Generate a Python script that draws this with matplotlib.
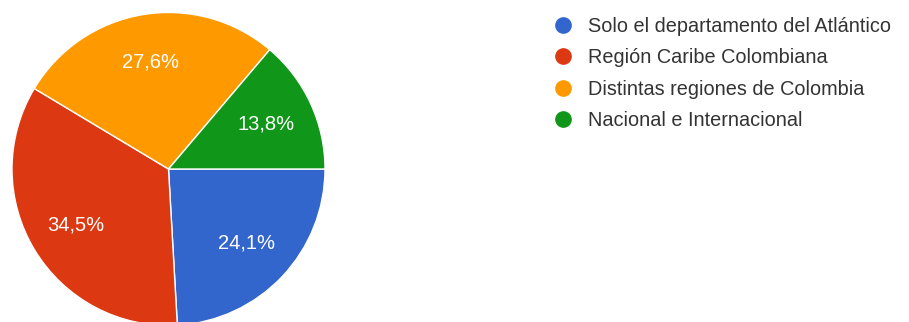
import matplotlib.pyplot as plt
from matplotlib.lines import Line2D

# Alcance de la oferta (porcentaje de respuestas)
categorias = ['Solo el departamento del Atlántico', 'Región Caribe Colombiana',
              'Distintas regiones de Colombia', 'Nacional e Internacional']
porcentajes = [24.1, 34.5, 27.6, 13.8]
colores = ['#3366CC', '#DC3912', '#FF9900', '#109618']

plt.rcParams['font.family'] = ['Liberation Sans', 'DejaVu Sans']

W, H = 909, 322
fig = plt.figure(figsize=(W / 100, H / 100), dpi=100)

# pie centered at (168.5, 169) px from top-left, radius 156.5 px
cx, cy, r = 168.5, H - 169, 156.5
ax = fig.add_axes([(cx - r) / W, (cy - r) / H, 2 * r / W, 2 * r / H])

wedges, texts, autotexts = ax.pie(
    porcentajes, colors=colores, startangle=0, counterclock=False,
    radius=1, center=(0, 0), pctdistance=0.69,
    autopct=lambda p: f'{p:.1f}%'.replace('.', ','),
    wedgeprops=dict(edgecolor='white', linewidth=1),
    textprops=dict(color='white', fontsize=14.5))
ax.set_xlim(-1, 1)
ax.set_ylim(-1, 1)
ax.set_aspect('equal')
ax.axis('off')

handles = [Line2D([], [], marker='o', linestyle='', markersize=11,
                  markerfacecolor=c, markeredgecolor=c) for c in colores]
fig.legend(handles, categorias, loc='upper left',
           bbox_to_anchor=(543.5 / W, 1 - 7 / H), frameon=False,
           fontsize=14.3, labelspacing=0.62, handletextpad=0.72,
           handlelength=1.0, borderpad=0, labelcolor='#333333')

fig.savefig('out.png', dpi=100)
